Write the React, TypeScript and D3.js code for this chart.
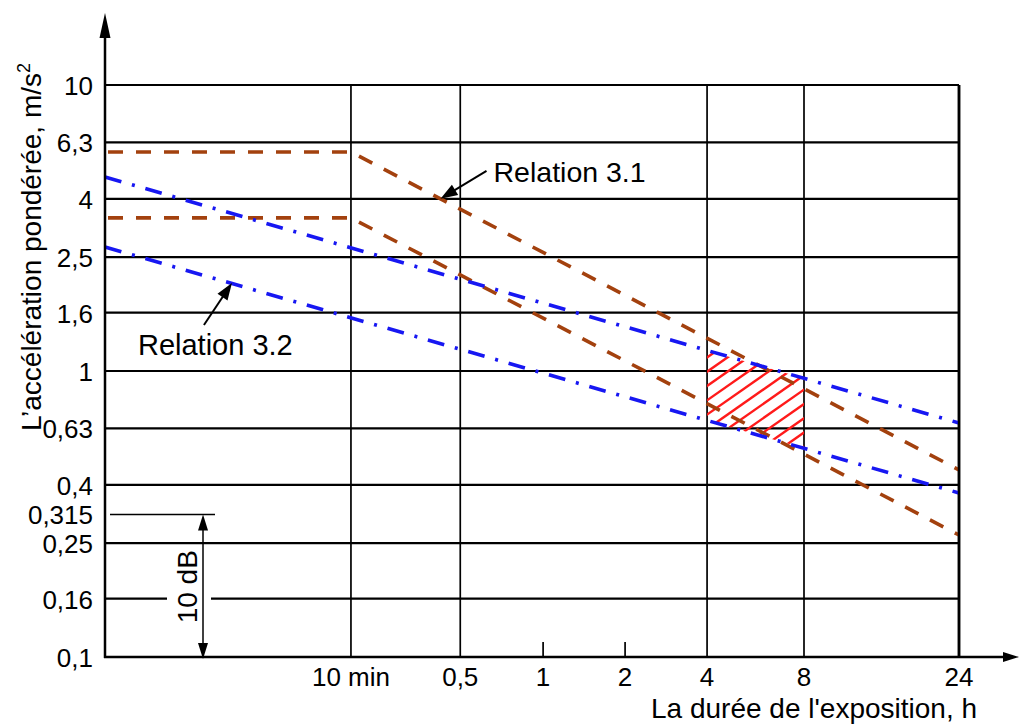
import React from "react";
import * as d3 from "d3";

// ---------- data ----------
const yTickValues = [10, 6.3, 4, 2.5, 1.6, 1, 0.63, 0.4, 0.25, 0.16, 0.1];
const xTickHours = [1 / 6, 0.5, 1, 2, 4, 8, 24];
const xTickLabels = ["10 min", "0,5", "1", "2", "4", "8", "24"];
const xTickFullGrid = [true, true, false, false, true, true, true];
const xStartHours = 1 / 60; // left edge of the (schematic) duration axis

// Relation 3.1 (a·T^1/2 = const) – brown dashed
const rel31Hours = [xStartHours, 1 / 6, 24];
const rel31Upper = [5.83, 5.83, 0.451];
const rel31Lower = [3.43, 3.43, 0.267];
// Relation 3.2 (a·T^1/4 = const) – blue dash-dot
const rel32Hours = [xStartHours, 24];
const rel32Upper = [4.77, 0.658];
const rel32Lower = [2.715, 0.3745];
// Caution zone (hatched) between 4 h and 8 h
const zoneHours = [4, 8];
// 10 dB marker
const dbLow = 0.1;
const dbHigh = 0.315;
// annotation anchors (hours, m/s²)
const ann31 = { h: 0.41, a: 4.0, label: "Relation 3.1" };
const ann32 = { h: 0.0547, a: 2.03, label: "Relation 3.2" };

// ---------- layout ----------
const W = 1020;
const H = 724;
const plot = { left: 105, right: 959, top: 85, bottom: 657 };
// schematic (non-uniform) placement of the duration breaks along the axis
const xBreakFractions = [0, 0.288, 0.416, 0.513, 0.609, 0.705, 0.8185, 1];

const FONT = "'Liberation Sans', Arial, Helvetica, sans-serif";
const BROWN = "#a3410e";
const BLUE = "#1717f2";
const RED = "#ff1a1a";

const yScale = d3.scaleLog().domain([0.1, 10]).range([plot.bottom, plot.top]);
const xScale = d3
  .scaleLinear()
  .domain([xStartHours, ...xTickHours].map(Math.log10))
  .range(xBreakFractions.map((f) => plot.left + f * (plot.right - plot.left)));
const X = (h: number) => xScale(Math.log10(h));

const lineGen = d3
  .line<[number, number]>()
  .x((d) => X(d[0]))
  .y((d) => yScale(d[1]));

const zip = (hs: number[], vs: number[]) => hs.map((h, i) => [h, vs[i]] as [number, number]);

function arrowHead(x1: number, y1: number, x2: number, y2: number, len = 16, hw = 5.5) {
  const dx = x2 - x1;
  const dy = y2 - y1;
  const L = Math.hypot(dx, dy);
  const ux = dx / L;
  const uy = dy / L;
  const bx = x2 - ux * len;
  const by = y2 - uy * len;
  const px = -uy * hw;
  const py = ux * hw;
  return `${x2},${y2} ${bx + px},${by + py} ${bx - px},${by - py}`;
}

const fmt = (v: number) => String(v).replace(".", ",");

export default function App() {
  // relation 3.2 straight lines in pixel space
  const upPts = zip(rel32Hours, rel32Upper).map((d) => [X(d[0]), yScale(d[1])]);
  const loPts = zip(rel32Hours, rel32Lower).map((d) => [X(d[0]), yScale(d[1])]);
  const interp = (pts: number[][], px: number) =>
    pts[0][1] + ((pts[1][1] - pts[0][1]) * (px - pts[0][0])) / (pts[1][0] - pts[0][0]);
  const zx0 = X(zoneHours[0]);
  const zx1 = X(zoneHours[1]);
  const zone = [
    [zx0, interp(upPts, zx0)],
    [zx1, interp(upPts, zx1)],
    [zx1, interp(loPts, zx1)],
    [zx0, interp(loPts, zx0)],
  ];
  const zoneStr = zone.map((p) => p.join(",")).join(" ");
  const slope = Math.tan((35 * Math.PI) / 180);
  const step = 14.3;
  const yStart = zone[0][1] + 7;
  const hatch = d3.range(-3, 16).map((k) => {
    const y0 = yStart + k * step;
    const xa = zx0 - 5;
    const xb = zx1 + 5;
    return { x1: xa, y1: y0 + slope * 5, x2: xb, y2: y0 - slope * (xb - zx0) };
  });

  const db0 = yScale(dbHigh);
  const db1 = yScale(dbLow);
  const dbX = 203;

  const t31 = { x: X(ann31.h), y: yScale(ann31.a) };
  const t32 = { x: X(ann32.h), y: yScale(ann32.a) };

  return (
    <svg
      width={W}
      height={H}
      style={{ position: "absolute", left: 0, top: 0, background: "#fff" }}
      fontFamily={FONT}
    >
      <defs>
        <clipPath id="zoneClip">
          <polygon points={zoneStr} />
        </clipPath>
      </defs>
      <rect width={W} height={H} fill="#fff" />

      {/* horizontal grid lines */}
      {yTickValues.map((v) => (
        <line
          key={"h" + v}
          x1={plot.left}
          x2={plot.right}
          y1={yScale(v)}
          y2={yScale(v)}
          stroke="#000"
          strokeWidth={2.2}
        />
      ))}
      {/* vertical grid lines / ticks */}
      {xTickHours.map((h, i) => (
        <line
          key={"v" + i}
          x1={X(h)}
          x2={X(h)}
          y1={xTickFullGrid[i] ? plot.top : plot.bottom - 15}
          y2={plot.bottom}
          stroke="#000"
          strokeWidth={i === xTickHours.length - 1 ? 2.5 : 1.7}
        />
      ))}

      {/* 10 dB marker */}
      <rect x={167} y={yScale(0.16) - 6} width={44} height={12} fill="#fff" />
      <line x1={110} x2={215} y1={db0} y2={db0} stroke="#000" strokeWidth={1.5} />
      <line x1={dbX} x2={dbX} y1={db0 + 14} y2={db1 - 14} stroke="#000" strokeWidth={1.5} />
      <polygon points={arrowHead(dbX, db1, dbX, db0, 16, 5)} fill="#000" />
      <polygon points={arrowHead(dbX, db0, dbX, db1 + 2, 16, 5)} fill="#000" />
      <text
        transform={`translate(197,${(db0 + db1) / 2 + 1}) rotate(-90)`}
        textAnchor="middle"
        fontSize={28}
      >
        10 dB
      </text>

      {/* hatched caution zone */}
      <g clipPath="url(#zoneClip)">
        {hatch.map((l, i) => (
          <line key={"hz" + i} {...l} stroke={RED} strokeWidth={2.4} />
        ))}
      </g>

      {/* Relation 3.1 */}
      {[rel31Upper, rel31Lower].map((vals, i) => (
        <path
          key={"r31" + i}
          d={lineGen(zip(rel31Hours, vals)) || ""}
          fill="none"
          stroke={BROWN}
          strokeWidth={3.6}
          strokeDasharray="15 13"
          strokeDashoffset={-3}
        />
      ))}
      {/* Relation 3.2 */}
      {[rel32Upper, rel32Lower].map((vals, i) => (
        <path
          key={"r32" + i}
          d={lineGen(zip(rel32Hours, vals)) || ""}
          fill="none"
          stroke={BLUE}
          strokeWidth={3.6}
          strokeDasharray="17 11 3 11"
        />
      ))}

      {/* axes */}
      <line x1={plot.left} x2={plot.left} y1={plot.bottom + 1} y2={36} stroke="#000" strokeWidth={2.5} />
      <polygon points={arrowHead(plot.left, 60, plot.left, 13, 25, 5.5)} fill="#000" />
      <line x1={plot.left - 1} x2={1005} y1={plot.bottom} y2={plot.bottom} stroke="#000" strokeWidth={2.5} />
      <polygon points={arrowHead(990, plot.bottom, 1019, plot.bottom, 16, 5)} fill="#000" />
      <line x1={plot.right} x2={plot.right} y1={plot.top} y2={plot.bottom} stroke="#000" strokeWidth={2.5} />

      {/* y tick labels */}
      {yTickValues.map((v) => (
        <text key={"yl" + v} x={93} y={yScale(v) + 10} textAnchor="end" fontSize={26}>
          {fmt(v)}
        </text>
      ))}
      <text x={93} y={db0 + 10} textAnchor="end" fontSize={26}>
        {fmt(dbHigh)}
      </text>

      {/* x tick labels */}
      {xTickHours.map((h, i) => (
        <text key={"xl" + i} x={X(h)} y={686} textAnchor="middle" fontSize={26}>
          {xTickLabels[i]}
        </text>
      ))}

      {/* axis titles */}
      <text x={651} y={718} fontSize={28}>
        La durée de l'exposition, h
      </text>
      <text transform="translate(41,431) rotate(-90)" fontSize={28}>
        L’accélération pondérée, m/s
        <tspan dy={-11} fontSize={18}>
          2
        </tspan>
      </text>

      {/* annotations */}
      <line x1={t31.x + 46} y1={t31.y - 28} x2={t31.x + 8} y2={t31.y - 5} stroke="#000" strokeWidth={2} />
      <polygon points={arrowHead(t31.x + 46, t31.y - 28, t31.x, t31.y, 17, 6)} fill="#000" />
      <text x={t31.x + 53} y={t31.y - 17} fontSize={28.5}>
        {ann31.label}
      </text>

      <line x1={t32.x - 28} y1={t32.y + 42} x2={t32.x - 4} y2={t32.y + 6} stroke="#000" strokeWidth={2} />
      <polygon points={arrowHead(t32.x - 28, t32.y + 42, t32.x, t32.y, 17, 6)} fill="#000" />
      <text x={t32.x - 94} y={t32.y + 72} fontSize={29}>
        {ann32.label}
      </text>
    </svg>
  );
}
